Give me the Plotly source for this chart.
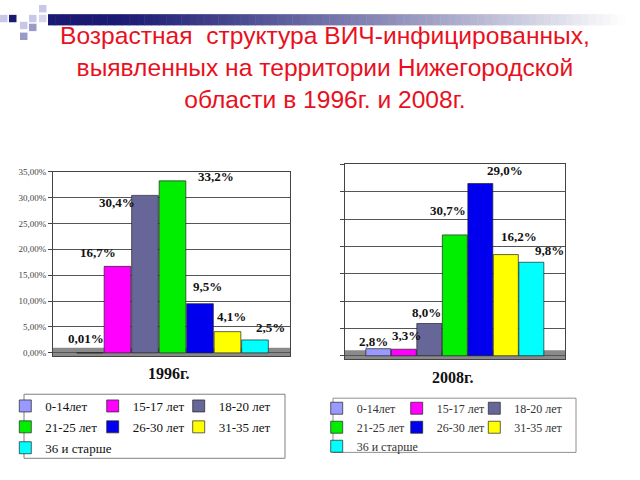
import plotly.graph_objects as go

# ---------------- data ----------------
categories = ["0-14лет", "15-17 лет", "18-20 лет", "21-25 лет", "26-30 лет", "31-35 лет", "36 и старше"]
values_1996 = [0.01, 16.7, 30.4, 33.2, 9.5, 4.1, 2.5]
labels_1996 = ["0,01%", "16,7%", "30,4%", "33,2%", "9,5%", "4,1%", "2,5%"]
values_2008 = [1.3, 1.2, 5.9, 22.1, 31.5, 18.5, 17.1]
labels_2008 = ["2,8%", "3,3%", "8,0%", "30,7%", "29,0%", "16,2%", "9,8%"]
tick_vals = [0, 5, 10, 15, 20, 25, 30, 35]
tick_text = ["0,00%", "5,00%", "10,00%", "15,00%", "20,00%", "25,00%", "30,00%", "35,00%"]
year_titles = ["1996г.", "2008г."]
title_text = ("Возрастная  структура ВИЧ-инфицированных,<br>"
              "выявленных на территории Нижегородской<br>"
              "области в 1996г. и 2008г.")

# ---------------- styles ----------------
colors = ["#9999ff", "#ff00ff", "#666699", "#00ee00", "#0000ee", "#ffff00", "#00ffff"]
# label offsets in pixels (xshift, yshift) relative to the bar top
offsets_1996 = [(-4, 14), (-19, 14), (-28, -7), (44, 4), (8, 17), (4, 15), (16, 12)]
offsets_2008 = [(-5, 7), (3, 14), (-3, 11), (-7, 24), (25, 13), (13, 18), (18, 12)]
legend_cols = [0, 1, 2, 0, 1, 2, 0]

W, H = 640, 480
def px(x):
    return x / W
def py(y):
    return 1 - y / H

fig = go.Figure()

left_legends = ["legend", "legend2", "legend3"]
right_legends = ["legend4", "legend5", "legend6"]
for i, cat in enumerate(categories):
    fig.add_trace(go.Bar(
        x=[i], y=[values_1996[i]], width=[0.97], name=cat,
        marker=dict(color=colors[i], line=dict(color="#222222", width=0.7)),
        xaxis="x", yaxis="y", legendgroup=f"a{i}",
        legend=left_legends[legend_cols[i]],
    ))
for i, cat in enumerate(categories):
    fig.add_trace(go.Bar(
        x=[i], y=[values_2008[i]], width=[0.98], name=cat,
        marker=dict(color=colors[i], line=dict(color="#222222", width=0.7)),
        xaxis="x2", yaxis="y2", legendgroup=f"b{i}",
        legend=right_legends[legend_cols[i]],
    ))

annotations = []
lab_font = dict(family="Liberation Serif", size=13, color="#111111")
for i, lab in enumerate(labels_1996):
    annotations.append(dict(x=i, y=values_1996[i], xref="x", yref="y", text="<b>" + lab + "</b>",
                            showarrow=False, xshift=offsets_1996[i][0], yshift=offsets_1996[i][1],
                            xanchor="center", yanchor="middle", font=lab_font))
for i, lab in enumerate(labels_2008):
    annotations.append(dict(x=i, y=values_2008[i], xref="x2", yref="y2", text="<b>" + lab + "</b>",
                            showarrow=False, xshift=offsets_2008[i][0], yshift=offsets_2008[i][1],
                            xanchor="center", yanchor="middle", font=lab_font))

annotations.append(dict(x=px(325), y=py(63), xref="paper", yref="paper", text=title_text,
                        showarrow=False, xanchor="center", yanchor="middle",
                        font=dict(family="Liberation Sans", size=24.6, color="#e8101e")))
annotations.append(dict(x=px(168), y=py(374), xref="paper", yref="paper", text="<b>" + year_titles[0] + "</b>",
                        showarrow=False, xanchor="center", yanchor="middle",
                        font=dict(family="Liberation Serif", size=16, color="#111111")))
annotations.append(dict(x=px(452), y=py(378), xref="paper", yref="paper", text="<b>" + year_titles[1] + "</b>",
                        showarrow=False, xanchor="center", yanchor="middle",
                        font=dict(family="Liberation Serif", size=16, color="#111111")))

shapes = []
# floors
for xr, yr in (("x domain", "y"), ("x2 domain", "y2")):
    shapes.append(dict(type="rect", xref=xr, yref=yr, x0=0, x1=1, y0=-0.6, y1=1.0,
                       fillcolor="#8a8a8a", line=dict(width=0), layer="below"))
# legend boxes
shapes.append(dict(type="rect", xref="paper", yref="paper", x0=px(24), x1=px(285), y0=py(460), y1=py(395),
                   line=dict(color="#808080", width=1), fillcolor="rgba(0,0,0,0)"))
shapes.append(dict(type="rect", xref="paper", yref="paper", x0=px(333), x1=px(576), y0=py(454), y1=py(399),
                   line=dict(color="#909090", width=1), fillcolor="rgba(0,0,0,0)"))
# decorative gradient band
n = 80
x_start, x_end = 48, 640
for k in range(n):
    xa = x_start + (x_end - x_start) * k / n
    xb = x_start + (x_end - x_start) * (k + 1) / n
    t = max(0.0, (xa - 110) / (620 - 110))
    f = min(1.0, t) ** 1.1
    r = int(26 + (255 - 26) * f)
    g = int(26 + (255 - 26) * f)
    b = int(115 + (255 - 115) * f)
    shapes.append(dict(type="rect", xref="paper", yref="paper", x0=px(xa), x1=px(xb + 0.5),
                       y0=py(20.7), y1=py(9.3), fillcolor=f"rgb({r},{g},{b})", line=dict(width=0)))
# decorative squares
squares = [(0, 10, "#c8c8e6"), (9, 10, "#1a1a73"), (20, 17, "#c8c8e6"), (29, 10, "#c8c8e6"),
           (29, 19, "#9a9ac8"), (39, 0, "#c8c8e6"), (20, 28, "#9a9ac8"), (39, 10, "#d6d6ee")]
for sx, sy, sc in squares:
    shapes.append(dict(type="rect", xref="paper", yref="paper", x0=px(sx), x1=px(sx + 7.5),
                       y0=py(sy + 7.5), y1=py(sy), fillcolor=sc, line=dict(width=0)))

leg_font_l = dict(family="Liberation Serif", size=13, color="#111111")
leg_font_r = dict(family="Liberation Serif", size=12, color="#333333")
def leg(x, y, font, gap):
    return dict(orientation="v", x=px(x), y=py(y), xanchor="left", yanchor="top",
                traceorder="grouped", tracegroupgap=gap,
                font=font, bgcolor="rgba(0,0,0,0)",
                borderwidth=0, itemclick=False, itemdoubleclick=False)

fig.update_layout(
    width=W, height=H, margin=dict(l=0, r=0, t=0, b=0),
    paper_bgcolor="white", plot_bgcolor="white",
    barmode="overlay", showlegend=True,
    xaxis=dict(domain=[px(53), px(290)], range=[-1.345, 7.273], showticklabels=False, ticks="",
               showgrid=False, zeroline=False, showline=True, linecolor="#444444", mirror=True),
    yaxis=dict(domain=[py(356.2), py(169)], range=[-0.6, 35], tickvals=tick_vals, ticktext=tick_text,
               ticks="outside", ticklen=4, tickcolor="#444444", showgrid=True, gridcolor="#555555",
               gridwidth=1, zeroline=False, showline=True, linecolor="#444444", mirror=True,
               tickfont=dict(family="Liberation Serif", size=9, color="#444444")),
    xaxis2=dict(domain=[px(345), px(565)], range=[-1.306, 7.32], showticklabels=False, ticks="",
                showgrid=False, zeroline=False, showline=True, linecolor="#444444", mirror=True,
                anchor="y2"),
    yaxis2=dict(domain=[py(359.3), py(161.7)], range=[-0.6, 35], tickvals=tick_vals,
                showticklabels=False, ticks="outside", ticklen=4, tickcolor="#444444",
                showgrid=True, gridcolor="#555555", gridwidth=1, zeroline=False,
                showline=True, linecolor="#444444", mirror=True, anchor="x2"),
    legend=leg(5.3, 391.7, leg_font_l, 1),
    legend2=leg(92.7, 391.7, leg_font_l, 1),
    legend3=leg(178.7, 391.7, leg_font_l, 1),
    legend4=leg(316.7, 394.5, leg_font_r, 0),
    legend5=leg(396.7, 394.5, leg_font_r, 0),
    legend6=leg(474.3, 394.5, leg_font_r, 0),
    annotations=annotations, shapes=shapes,
)

fig.write_html("out.html")
